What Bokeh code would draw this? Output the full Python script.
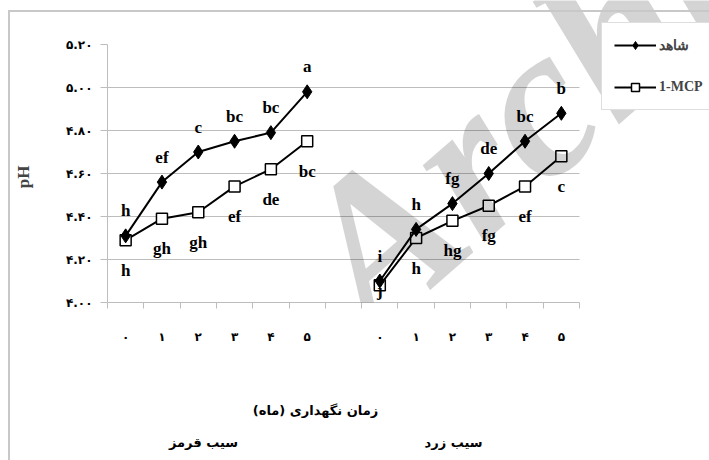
from bokeh.plotting import figure
from bokeh.models import (Range1d, FixedTicker, Legend, LegendItem, Label,
                          LinearAxis, ColumnDataSource, InlineStyleSheet, BoxAnnotation)
from bokeh.embed import file_html
from bokeh.resources import INLINE

# --- data -----------------------------------------------------------------
months_fa = ["۰", "۱", "۲", "۳", "۴", "۵"]          # storage time (months)
cultivars = ["سیب قرمز", "سیب زرد"]               # red apple, yellow apple
series_names = ["شاهد", "1-MCP"]                  # control, 1-MCP
x_title = "زمان نگهداری (ماه)"
y_title = "pH"

red_control = [4.31, 4.56, 4.70, 4.75, 4.79, 4.98]
red_mcp = [4.29, 4.39, 4.42, 4.54, 4.62, 4.75]
yellow_control = [4.10, 4.34, 4.46, 4.60, 4.75, 4.88]
yellow_mcp = [4.08, 4.30, 4.38, 4.45, 4.54, 4.68]

red_control_letters = ["h", "ef", "c", "bc", "bc", "a"]
red_mcp_letters = ["h", "gh", "gh", "ef", "de", "bc"]
yellow_control_letters = ["i", "h", "fg", "de", "bc", "b"]
yellow_mcp_letters = ["j", "h", "hg", "fg", "ef", "c"]

y_ticks = [4.0, 4.2, 4.4, 4.6, 4.8, 5.0, 5.2]
y_tick_labels = ["۴.۰۰", "۴.۲۰", "۴.۴۰", "۴.۶۰", "۴.۸۰", "۵.۰۰", "۵.۲۰"]

# --- layout helpers ---------------------------------------------------------
GRAY = "#bdbdbd"
PERSIAN_FONT = "DejaVu Sans"
LATIN_FONT = "Liberation Serif"

red_x = list(range(len(months_fa)))
yellow_x = [i + len(months_fa) + 1 for i in range(len(months_fa))]
n_slots = len(months_fa) * 2 + 1
X_MIN, X_MAX = -0.5, n_slots - 0.5
Y_MIN, Y_MAX = y_ticks[0], y_ticks[-1]
SLOT_PX = 472.0 / n_slots        # pixels per month slot
UNIT_PX = 215.0                  # pixels per pH unit
LEFT, BOTTOM, WIDTH, HEIGHT = 107, 302, 709, 460


def px_to_x(px):
    return (px - LEFT) / SLOT_PX + X_MIN


def px_to_y(py):
    return Y_MIN + (BOTTOM - py) / UNIT_PX


# the drawing area reaches the right and top edges so the legend and the
# watermark can sit beside the axes; axes are limited with bounds
p = figure(width=WIDTH, height=HEIGHT, output_backend="svg", toolbar_location=None,
           x_range=Range1d(X_MIN, px_to_x(WIDTH)), y_range=Range1d(Y_MIN, px_to_y(0)),
           min_border_left=LEFT, min_border_right=0, min_border_top=0,
           min_border_bottom=HEIGHT - BOTTOM, title=None)
p.outline_line_color = None
p.background_fill_color = "white"
p.border_fill_color = "white"

# light frame around the whole chart area (left and top edges in view)
p.stylesheets = [InlineStyleSheet(css="""
:host { position: relative; }
:host::after {
  content: ""; position: absolute; left: 8px; top: 10px;
  width: 701px; height: 450px; box-sizing: border-box;
  border-left: 2px solid #c8c8c8; border-top: 2px solid #c8c8c8;
  pointer-events: none; z-index: 10;
}
""")]

# x axis: month labels under each point, tick marks between slots
p.xaxis.bounds = (X_MIN, X_MAX)
p.xaxis.ticker = FixedTicker(ticks=red_x + yellow_x,
                             minor_ticks=[i - 0.5 for i in range(n_slots + 1)])
p.xaxis.major_label_overrides = {x: m for x, m in zip(red_x + yellow_x, months_fa * 2)}
p.xaxis.major_tick_out = 0
p.xaxis.major_tick_in = 0
p.xaxis.minor_tick_out = 6
p.xaxis.minor_tick_in = 0
p.xaxis.minor_tick_line_color = GRAY
p.xaxis.axis_line_color = GRAY
p.xaxis.major_label_standoff = 21
p.xaxis.major_label_text_font = PERSIAN_FONT
p.xaxis.major_label_text_font_style = "bold"
p.xaxis.major_label_text_font_size = "12px"
p.xaxis.major_label_text_color = "black"
p.xgrid.visible = False


def text_axis(ticks, labels, standoff, size):
    ax = LinearAxis(ticker=FixedTicker(ticks=ticks),
                    major_label_overrides=dict(zip(ticks, labels)),
                    axis_line_color=None, major_tick_line_color=None,
                    minor_tick_line_color=None, major_tick_out=0, major_tick_in=0,
                    major_label_standoff=standoff, major_label_text_font=PERSIAN_FONT,
                    major_label_text_font_style="bold",
                    major_label_text_font_size=size, major_label_text_color="black")
    p.add_layout(ax, "below")
    return ax


# axis title and cultivar names as extra label rows under the month axis
text_axis([px_to_x(315)], [x_title], 56, "13px")
text_axis([px_to_x(203), px_to_x(453)], cultivars, 14, "13px")

# y axis; the title is padded so it sits beside the middle of the pH scale
p.yaxis.bounds = (Y_MIN, Y_MAX)
p.yaxis.ticker = FixedTicker(ticks=y_ticks)
p.yaxis.major_label_overrides = dict(zip(y_ticks, y_tick_labels))
p.yaxis.major_tick_out = 7
p.yaxis.major_tick_in = 0
p.yaxis.minor_tick_line_color = None
p.yaxis.major_tick_line_color = GRAY
p.yaxis.axis_line_color = GRAY
p.yaxis.major_label_standoff = 8
p.yaxis.major_label_text_font = PERSIAN_FONT
p.yaxis.major_label_text_font_style = "bold"
p.yaxis.major_label_text_font_size = "12px"
p.yaxis.major_label_text_color = "black"
p.yaxis.axis_label = y_title + "\u00a0" * 12
p.yaxis.axis_label_text_font = LATIN_FONT
p.yaxis.axis_label_text_font_style = "bold"
p.yaxis.axis_label_text_font_size = "17px"
p.yaxis.axis_label_standoff = 30
p.ygrid.ticker = FixedTicker(ticks=y_ticks[1:-1])
p.ygrid.grid_line_color = GRAY
p.ygrid.grid_line_width = 1

# grid lines stop at the end of the month axis
p.add_layout(BoxAnnotation(left=X_MAX, right=px_to_x(WIDTH + 50), bottom=Y_MIN - 1,
                           top=Y_MAX + 1, fill_color="white", fill_alpha=1,
                           line_color=None, level="underlay"))

# --- series -----------------------------------------------------------------
ABOVE = 25 / UNIT_PX   # letter offset above control points (data units)
BELOW = 30 / UNIT_PX   # letter offset below 1-MCP points
FLOOR = Y_MIN + 12 / UNIT_PX

ctrl_renderers = []
mcp_renderers = []
for xs, ctrl, mcp, ctrl_lab, mcp_lab in [
        (red_x, red_control, red_mcp, red_control_letters, red_mcp_letters),
        (yellow_x, yellow_control, yellow_mcp, yellow_control_letters, yellow_mcp_letters)]:
    src_c = ColumnDataSource(dict(x=xs, y=ctrl, lab=ctrl_lab,
                                  ly=[v + ABOVE for v in ctrl]))
    src_m = ColumnDataSource(dict(x=xs, y=mcp, lab=mcp_lab,
                                  ly=[max(v - BELOW, FLOOR) for v in mcp]))
    lm = p.line("x", "y", source=src_m, line_color="black", line_width=2)
    sm = p.scatter("x", "y", source=src_m, marker="square", size=11,
                   fill_color="white", line_color="black", line_width=1.5)
    lc = p.line("x", "y", source=src_c, line_color="black", line_width=2)
    sc = p.scatter("x", "y", source=src_c, marker="diamond", size=14,
                   fill_color="black", line_color="black")
    ctrl_renderers.append((lc, sc))
    mcp_renderers.append((lm, sm))
    for src in (src_c, src_m):
        p.text("x", "ly", text="lab", source=src, text_align="center",
               text_baseline="middle", text_font={"value": LATIN_FONT},
               text_font_style="bold", text_font_size="17px", text_color="black")

# --- legend -----------------------------------------------------------------
legend = Legend(items=[LegendItem(label=series_names[0], renderers=list(ctrl_renderers[0])),
                       LegendItem(label=series_names[1], renderers=list(mcp_renderers[0]))],
                location=(601 - LEFT, BOTTOM - 110), border_line_color=GRAY,
                border_line_width=1, padding=12, spacing=22, glyph_width=42,
                glyph_height=20, label_standoff=3, label_width=62,
                label_text_font=LATIN_FONT,
                label_text_font_style="bold", label_text_font_size="14px",
                background_fill_color="white", background_fill_alpha=1, margin=0)
p.add_layout(legend)

# translucent watermark laid over the whole chart
p.add_layout(Label(x=px_to_x(325), y=px_to_y(285), text="Archive", angle=0.72,
                   text_font=LATIN_FONT, text_font_style="bold italic",
                   text_baseline="alphabetic", text_font_size="215px",
                   text_color="black", text_alpha=0.17, level="overlay"))

open("out.html", "w").write(file_html(p, INLINE))
